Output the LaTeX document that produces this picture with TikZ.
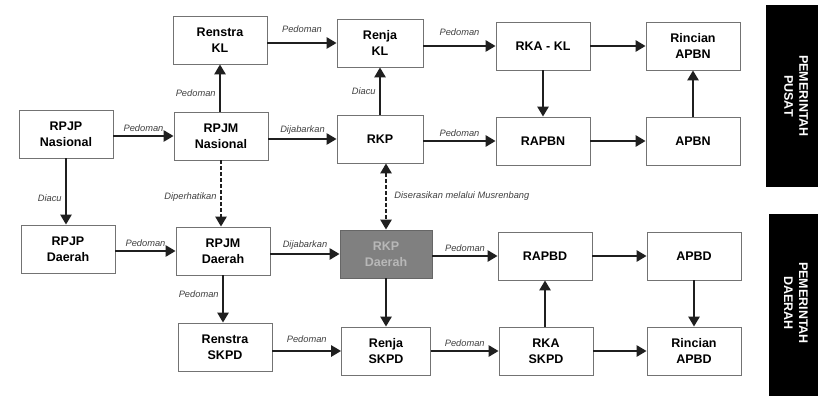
\documentclass[tikz,border=0pt]{standalone}
\usepackage{fontspec}
\setmainfont{Liberation Sans}
\usetikzlibrary{arrows.meta}
\begin{document}
\begin{tikzpicture}[x=1pt,y=-1pt,
  box/.style={draw=black!55, line width=0.8pt, fill=white, minimum width=94pt, minimum height=48pt,
    inner sep=1pt, align=center, font=\fontsize{12.5}{16}\selectfont\bfseries},
  arr/.style={line width=2.8pt, draw=black!88, -{Triangle[length=10pt,width=11pt]}},
  darr/.style={line width=2.8pt, draw=black!88, dash pattern=on 4pt off 2pt, -{Triangle[length=10pt,width=11pt]}},
  lbl/.style={font=\fontsize{9.3}{11}\selectfont\itshape, text=black!75, inner sep=3pt},
  gov/.style={fill=black, draw=black},
  govtext/.style={text=white, rotate=-90, align=center, font=\fontsize{12.5}{15}\selectfont\bfseries}]
\useasboundingbox (0,0) rectangle (818,398);
\fill[white] (0,0) rectangle (818,398);

% row 1
\node[box] (renstrakl) at (220,40) {Renstra\\KL};
\node[box, minimum width=86pt] (renjakl) at (380,43) {Renja\\KL};
\node[box] (rkakl) at (543,46) {RKA - KL};
\node[box] (rincianapbn) at (693,46) {Rincian\\APBN};
% row 2
\node[box] (rpjpnas) at (66,134) {RPJP\\Nasional};
\node[box] (rpjmnas) at (221,136) {RPJM\\Nasional};
\node[box, minimum width=86pt] (rkp) at (380,139) {RKP};
\node[box] (rapbn) at (543,141) {RAPBN};
\node[box] (apbn) at (693,141) {APBN};
% row 3
\node[box] (rpjpd) at (68,249) {RPJP\\Daerah};
\node[box] (rpjmd) at (223,251) {RPJM\\Daerah};
\node[box, minimum width=92pt, fill=black!50, draw=black!60, text=black!28] (rkpd) at (386,254) {RKP\\Daerah};
\node[box] (rapbd) at (545,256) {RAPBD};
\node[box] (apbd) at (694,256) {APBD};
% row 4
\node[box] (renstraskpd) at (225,347) {Renstra\\SKPD};
\node[box, minimum width=89pt] (renjaskpd) at (386,351) {Renja\\SKPD};
\node[box] (rkaskpd) at (546,351) {RKA\\SKPD};
\node[box] (rincianapbd) at (694,351) {Rincian\\APBD};

% government boxes
\node[gov, minimum width=52pt, minimum height=181pt] (pusat) at (792,95.5) {};
\node[govtext] (pusattext) at (796,96) {PEMERINTAH\\PUSAT};
\node[gov, minimum width=49pt, minimum height=181pt] (daerah) at (793.5,304.5) {};
\node[govtext] (daerahtext) at (796,303) {PEMERINTAH\\DAERAH};

% connectors, central level
\draw[arr] (rpjpnas.east |- rpjmnas) -- node[lbl, above] {Pedoman} (rpjmnas.west);
\draw[arr] (rpjmnas.north -| renstrakl) -- node[lbl, left, pos=0.4] {Pedoman} (renstrakl.south);
\draw[arr] (rpjmnas.east |- rkp) -- node[lbl, above] {Dijabarkan} (rkp.west);
\draw[arr] (renstrakl.east |- renjakl) -- node[lbl, above, yshift=6pt] {Pedoman} (renjakl.west);
\draw[arr] (rkp.north -| renjakl) -- node[lbl, left] {Diacu} (renjakl.south);
\draw[arr] (renjakl.east |- rkakl) -- node[lbl, above, yshift=6pt] {Pedoman} (rkakl.west);
\draw[arr] (rkakl.east) -- (rincianapbn.west);
\draw[arr] (rkakl.south) -- (rapbn.north);
\draw[arr] (rkp.east |- rapbn) -- node[lbl, above] {Pedoman} (rapbn.west);
\draw[arr] (rapbn.east) -- (apbn.west);
\draw[arr] (apbn.north) -- (rincianapbn.south);

% between levels
\draw[arr] (rpjpnas.south) -- node[lbl, left, pos=0.6] {Diacu} (rpjpd.north -| rpjpnas);
\draw[darr] (rpjmnas.south) -- node[lbl, left, pos=0.55] {Diperhatikan} (rpjmd.north -| rpjmnas);
\draw[darr, {Triangle[length=10pt,width=11pt]}-{Triangle[length=10pt,width=11pt]}] (rkp.south -| rkpd) -- node[lbl, right, xshift=4pt] {Diserasikan melalui Musrenbang} (rkpd.north);

% regional level
\draw[arr] (rpjpd.east |- rpjmd) -- node[lbl, above] {Pedoman} (rpjmd.west);
\draw[arr] (rpjmd.east |- rkpd) -- node[lbl, above] {Dijabarkan} (rkpd.west);
\draw[arr] (rkpd.east |- rapbd) -- node[lbl, above] {Pedoman} (rapbd.west);
\draw[arr] (rapbd.east) -- (apbd.west);
\draw[arr] (apbd.south) -- (rincianapbd.north);
\draw[arr] (rpjmd.south) -- node[lbl, left, pos=0.4] {Pedoman} (renstraskpd.north -| rpjmd);
\draw[arr] (renstraskpd.east |- renjaskpd) -- node[lbl, above, yshift=4pt] {Pedoman} (renjaskpd.west);
\draw[arr] (rkpd.south) -- (renjaskpd.north -| rkpd);
\draw[arr] (renjaskpd.east |- rkaskpd) -- node[lbl, above] {Pedoman} (rkaskpd.west);
\draw[arr] (rkaskpd.north -| rapbd) -- (rapbd.south);
\draw[arr] (rkaskpd.east) -- (rincianapbd.west);
\end{tikzpicture}
\end{document}
